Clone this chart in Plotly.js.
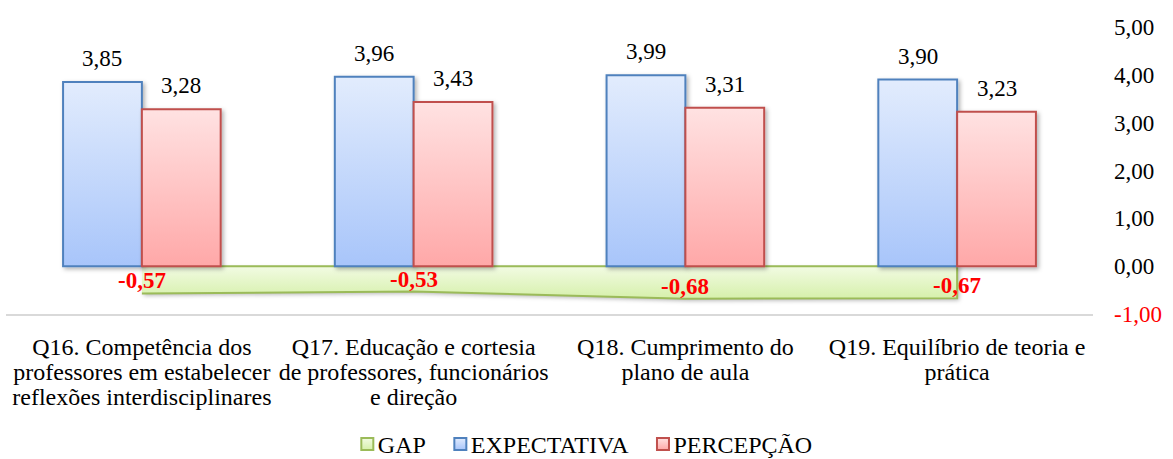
<!DOCTYPE html>
<html>
<head>
<meta charset="utf-8">
<script src="https://cdn.plot.ly/plotly-3.0.1.min.js"></script>
<style>
html,body{margin:0;padding:0;background:#fff;}
#chart{width:1173px;height:459px;}
</style>
</head>
<body>
<div id="chart"></div>
<script>
const categories = [
  'Q16. Competência dos<br>professores em estabelecer<br>reflexões interdisciplinares',
  'Q17. Educação e cortesia<br>de professores, funcionários<br>e direção',
  'Q18. Cumprimento do<br>plano de aula',
  'Q19. Equilíbrio de teoria e<br>prática'
];
const expectativa = [3.85, 3.96, 3.99, 3.90];
const percepcao = [3.28, 3.43, 3.31, 3.23];
const gap = [-0.57, -0.53, -0.68, -0.67];
const yTickVals = [-1, 0, 1, 2, 3, 4, 5];
const yTickText = ['<span style="color:#ff0000">-1,00</span>', '0,00', '1,00', '2,00', '3,00', '4,00', '5,00'];

const FONT = 'Liberation Serif';
const FS = 23;
const FS_CAT = 24;
const FS_LEG = 24;
const fmt = v => v.toFixed(2).replace('.', ',');

const BARGAP = 0.42;

const traces = [
  {
    type: 'scatter', name: 'GAP', x: [null], y: [null], mode: 'markers',
    marker: {symbol: 'square', size: 12, color: '#e4f5c6', line: {color: '#9bbb59', width: 2}},
    hoverinfo: 'skip'
  },
  {
    type: 'bar', name: 'EXPECTATIVA', x: categories, y: expectativa,
    marker: {color: '#c3d6fb', line: {color: '#4f81bd', width: 2}}
  },
  {
    type: 'bar', name: 'PERCEPÇÃO', x: categories, y: percepcao,
    marker: {color: '#ffc4c4', line: {color: '#c0504d', width: 2}}
  },
  {
    type: 'scatter', name: 'GAP area', showlegend: false,
    x: categories.concat(categories.slice().reverse()),
    y: gap.concat(gap.map(() => 0)),
    mode: 'lines', fill: 'toself', fillcolor: '#e4f5c6',
    line: {color: '#9bbb59', width: 2}, hoverinfo: 'skip'
  }
];

const annotations = [];
categories.forEach((c, i) => {
  annotations.push({x: c, y: expectativa[i], xshift: -39.4, yshift: 9, yanchor: 'bottom',
    text: fmt(expectativa[i]), showarrow: false, font: {family: FONT, size: FS, color: '#000'}});
  annotations.push({x: c, y: percepcao[i], xshift: 39.4, yshift: 9, yanchor: 'bottom',
    text: fmt(percepcao[i]), showarrow: false, font: {family: FONT, size: FS, color: '#000'}});
  annotations.push({x: c, y: gap[i], yshift: -2, yanchor: 'bottom',
    text: '<b>' + fmt(gap[i]) + '</b>', showarrow: false, font: {family: FONT, size: FS, color: '#ff0000'}});
});

const layout = {
  width: 1173, height: 459,
  margin: {l: 6, r: 80, t: 27, b: 145, pad: 0},
  paper_bgcolor: '#fff', plot_bgcolor: '#fff',
  font: {family: FONT, size: FS, color: '#000'},
  barmode: 'group', bargap: BARGAP, bargroupgap: 0,
  showlegend: true,
  legend: {orientation: 'h', xref: 'container', yref: 'container', x: 0.5, xanchor: 'center',
    y: 0.032, yanchor: 'middle', font: {family: FONT, size: FS_LEG, color: '#000'}, itemwidth: 30,
    traceorder: 'normal'},
  xaxis: {
    type: 'category', showgrid: false, zeroline: false, showline: true,
    linecolor: '#d9d9d9', linewidth: 2, ticks: '', ticklabelstandoff: 10,
    tickfont: {family: FONT, size: FS_CAT, color: '#000'}, fixedrange: true
  },
  yaxis: {
    side: 'right', range: [-1, 5], showgrid: false, zeroline: false, showline: false,
    ticks: '', tickvals: yTickVals, ticktext: yTickText, ticklabelstandoff: 20,
    tickfont: {family: FONT, size: FS, color: '#000'}, fixedrange: true
  },
  annotations: annotations
};

Plotly.newPlot('chart', traces, layout, {displayModeBar: false, staticPlot: true}).then(() => {
  const NS = 'http://www.w3.org/2000/svg';
  const svg = document.querySelector('#chart .main-svg');
  let defs = svg.querySelector('defs');
  if (!defs) { defs = document.createElementNS(NS, 'defs'); svg.insertBefore(defs, svg.firstChild); }
  function grad(id, top, bottom) {
    const g = document.createElementNS(NS, 'linearGradient');
    g.setAttribute('id', id);
    g.setAttribute('x1', '0'); g.setAttribute('y1', '0'); g.setAttribute('x2', '0'); g.setAttribute('y2', '1');
    [[0, top], [1, bottom]].forEach(([o, c]) => {
      const s = document.createElementNS(NS, 'stop');
      s.setAttribute('offset', o); s.setAttribute('stop-color', c);
      g.appendChild(s);
    });
    defs.appendChild(g);
  }
  grad('gBlue', '#e2ecfd', '#a8c5fa');
  grad('gRed', '#ffe2e2', '#ffa8a8');
  grad('gGreen', '#f2fbe3', '#d6f0ab');
  const f = document.createElementNS(NS, 'filter');
  f.setAttribute('id', 'shadow'); f.setAttribute('x', '-10%'); f.setAttribute('y', '-10%');
  f.setAttribute('width', '130%'); f.setAttribute('height', '130%');
  const ds = document.createElementNS(NS, 'feDropShadow');
  ds.setAttribute('dx', '2'); ds.setAttribute('dy', '2'); ds.setAttribute('stdDeviation', '2');
  ds.setAttribute('flood-color', '#000'); ds.setAttribute('flood-opacity', '0.3');
  f.appendChild(ds); defs.appendChild(f);

  const barTraces = document.querySelectorAll('#chart .barlayer .trace');
  const fills = ['url(#gBlue)', 'url(#gRed)'];
  barTraces.forEach((t, i) => {
    t.querySelectorAll('path').forEach(p => { p.style.fill = fills[i]; p.setAttribute('filter', 'url(#shadow)'); });
  });
  const fillPath = document.querySelector('#chart .scatterlayer .js-fill');
  if (fillPath) { fillPath.style.fill = 'url(#gGreen)'; fillPath.setAttribute('filter', 'url(#shadow)'); }
  const sl = document.querySelector('#chart .scatterlayer');
  const bl = document.querySelector('#chart .barlayer');
  if (sl && bl) bl.parentNode.insertBefore(sl, bl);

  // legend: gradients and compact Excel-like spacing
  const legend = document.querySelector('#chart .legend');
  if (legend) legend.querySelectorAll('[clip-path]').forEach(e => e.removeAttribute('clip-path'));
  const bg = legend && legend.querySelector('.bg');
  if (bg) bg.style.display = 'none';
  const legendTraces = Array.from(document.querySelectorAll('#chart .legend .traces'));
  const lf = ['url(#gGreen)', 'url(#gBlue)', 'url(#gRed)'];
  const SYM_TXT = 10.5, ITEM_GAP = 34.5, HALF_SYM = 6.5;
  const items = legendTraces.map((t, i) => {
    t.querySelectorAll('.legendpoints path').forEach(p => { p.style.fill = lf[i]; });
    const sym = t.querySelector('.legendpoints');
    const sb = sym.getBBox();
    const sc = sb.x + sb.width / 2;
    const txt = t.querySelector('text.legendtext');
    txt.setAttribute('x', sc + SYM_TXT);
    const tw = txt.getComputedTextLength();
    const m = (t.getAttribute('transform') || '').match(/translate\(\s*([-\d.]+)[ ,]+([-\d.]+)\s*\)/);
    const ty = m ? parseFloat(m[2]) : 0;
    const pAbs = t.parentNode.getCTM().e;
    return {t, sc, tw, ty, pAbs};
  });
  let pos = 0; const centers = [];
  items.forEach(it => { centers.push(pos); pos = pos + SYM_TXT + it.tw + ITEM_GAP; });
  const last = items[items.length - 1];
  const totalStart = -HALF_SYM;
  const totalEnd = centers[centers.length - 1] + SYM_TXT + last.tw;
  const off = 1173 / 2 - (totalStart + totalEnd) / 2;
  items.forEach((it, i) => {
    const nx = centers[i] + off - it.sc - it.pAbs;
    it.t.setAttribute('transform', 'translate(' + nx + ',' + it.ty + ')');
  });

  // tighter line spacing on category labels (scale plotly's own dy values)
  const ratio = 25 / (1.3 * FS_CAT);
  document.querySelectorAll('#chart .xtick text tspan.line').forEach(l => {
    const dy = l.getAttribute('dy');
    if (dy) {
      const mm = dy.match(/^(-?[\d.]+)(em|px)?$/);
      if (mm) l.setAttribute('dy', (parseFloat(mm[1]) * ratio) + (mm[2] || ''));
    }
  });
});
</script>
</body>
</html>
